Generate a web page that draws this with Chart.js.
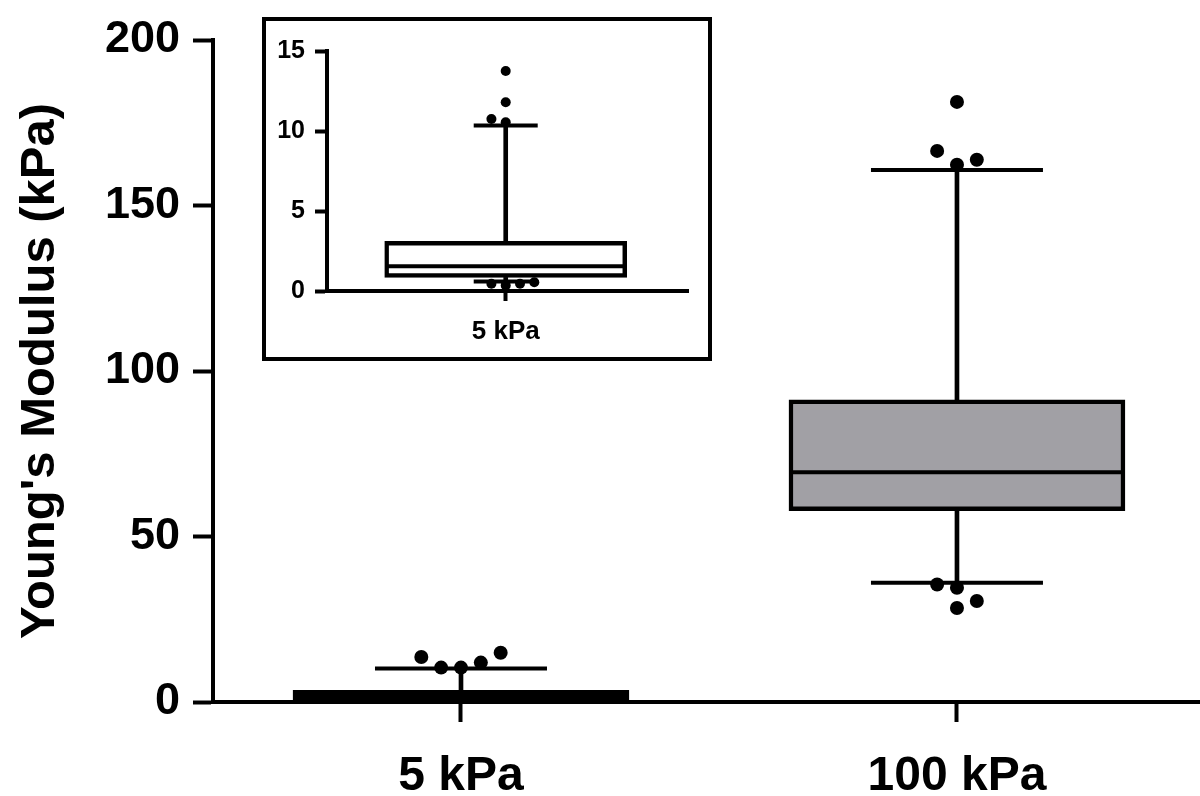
<!DOCTYPE html>
<html>
<head>
<meta charset="utf-8">
<script src="https://cdn.jsdelivr.net/npm/chart.js@4.4.0/dist/chart.umd.min.js"></script>
<style>
  html, body { margin: 0; padding: 0; background: #fff; }
  #wrap { position: relative; width: 1200px; height: 796px; }
  #inset { position: absolute; left: 262px; top: 17px; width: 450px; height: 344px;
           border: 4px solid #000; box-sizing: border-box; background: #fff; }
  canvas { display: block; }
</style>
</head>
<body>
<div id="wrap">
  <canvas id="mainChart" width="1200" height="796"></canvas>
  <div id="inset"><canvas id="insetChart" width="442" height="336"></canvas></div>
</div>
<script>
// main plot data (kPa)
const categories = ['5 kPa', '100 kPa'];
const q1 = [0.5, 57.8];
const median = [1.6, 69.4];
const q3 = [3.5, 91.3];
const whiskerLow = [0.5, 36.0];
const whiskerHigh = [10.1, 160.7];
const outlierGroup = [0, 0, 0, 0, 0, 1, 1, 1, 1, 1, 1, 1, 1];
const outlierValues = [13.6, 10.4, 10.4, 11.9, 14.9, 181.3, 166.5, 162.3, 163.8, 35.5, 34.5, 30.5, 28.4];
const outlierLane = [-2, -1, 0, 1, 2, 0, -1, 0, 1, -1, 0, 1, 0];
const yTicks = [0, 50, 100, 150, 200];

// inset data (5 kPa only)
const insetCategories = ['5 kPa'];
const insetQ1 = [0.85];
const insetMedian = [1.55];
const insetQ3 = [3.1];
const insetLow = [0.6];
const insetHigh = [10.35];
const insetOutlierGroup = [0, 0, 0, 0, 0, 0, 0, 0];
const insetOutlierValues = [13.75, 11.8, 10.75, 10.55, 0.45, 0.35, 0.45, 0.55];
const insetOutlierLane = [0, 0, -1, 0, -1, 0, 1, 2];
const insetYTicks = [0, 5, 10, 15];

const FONT = "'Liberation Sans', Arial, Helvetica, sans-serif";
const LANE = 0.04;

function boxChart(canvasId, s) {
  const n = s.cats.length;
  const idx = [...Array(n).keys()];
  const whiskers = idx.flatMap(i => [
    { x: i + 1, y: [s.q3[i], s.hi[i]] },
    { x: i + 1, y: [s.lo[i], s.q1[i]] }
  ]);
  const caps = idx.flatMap(i => [{ x: i + 1, y: s.lo[i] }, { x: i + 1, y: s.hi[i] }]);
  const meds = idx.map(i => ({ x: i + 1, y: s.med[i] }));
  const pts = s.outVals.map((v, k) => ({ x: s.outGroup[k] + 1 + s.outLane[k] * LANE, y: v }));

  const axisGrid = len => ({
    drawOnChartArea: false, drawTicks: true, offset: false,
    tickLength: len, tickWidth: 4, tickColor: '#000'
  });
  const axisBorder = { display: true, width: 4, color: '#000' };

  return new Chart(document.getElementById(canvasId), {
    type: 'bar',
    data: {
      datasets: [
        { type: 'scatter', data: pts, pointStyle: 'circle', pointRadius: s.dot,
          backgroundColor: '#000', borderWidth: 0, order: 1, clip: false },
        { type: 'scatter', data: meds, pointStyle: 'line', pointRadius: s.boxW / 2 - 1,
          borderColor: '#000', borderWidth: 4, order: 2, clip: false },
        { type: 'scatter', data: caps, pointStyle: 'line', pointRadius: s.capR,
          borderColor: '#000', borderWidth: 4, order: 2, clip: false },
        { type: 'bar', data: whiskers, backgroundColor: '#000', barThickness: 4,
          grouped: false, borderWidth: 0, order: 3 },
        { type: 'bar', data: idx.map(i => ({ x: i + 1, y: [s.q1[i], s.q3[i]] })),
          backgroundColor: s.fill, borderColor: '#000', borderWidth: 4.5,
          borderSkipped: false, barThickness: s.boxW, grouped: false, order: 4 }
      ]
    },
    options: {
      responsive: false,
      animation: false,
      layout: { padding: s.pad, autoPadding: false },
      plugins: { legend: { display: false }, tooltip: { enabled: false } },
      scales: {
        x: {
          type: 'linear', min: s.xmin, max: s.xmax, offset: false,
          afterBuildTicks: sc => { sc.ticks = s.cats.map((c, i) => ({ value: i + 1 })); },
          afterFit: sc => { sc.height = s.xh; },
          ticks: { callback: v => s.cats[v - 1], color: '#000', padding: s.xpad,
                   font: { family: FONT, size: s.xfont, weight: 'bold' } },
          grid: axisGrid(s.xtick),
          border: axisBorder
        },
        y: {
          min: s.yTicks[0], max: s.yTicks[s.yTicks.length - 1],
          afterBuildTicks: sc => { sc.ticks = s.yTicks.map(v => ({ value: v })); },
          afterFit: sc => { sc.width = s.yw; },
          ticks: { color: '#000', padding: s.ypad,
                   font: { family: FONT, size: s.yfont, weight: 'bold' } },
          grid: axisGrid(s.ytick),
          border: axisBorder,
          title: s.title ? {
            display: true, text: s.title, color: '#000',
            font: { family: FONT, size: 49, weight: 'bold', lineHeight: 1.2 },
            padding: { top: 11, bottom: 0 }
          } : { display: false }
        }
      }
    }
  });
}

boxChart('mainChart', {
  cats: categories, q1: q1, med: median, q3: q3, lo: whiskerLow, hi: whiskerHigh,
  outVals: outlierValues, outGroup: outlierGroup, outLane: outlierLane, yTicks: yTicks,
  fill: ['#000000', '#a1a0a5'], boxW: 336, capR: 86, dot: 7,
  xmin: 0.5, xmax: 2.49, xh: 94, xfont: 48, xpad: 26, xtick: 20,
  yw: 213, yfont: 45, ypad: 13, ytick: 20,
  pad: { top: 38, right: 0, bottom: 0, left: 0 },
  title: "Young's Modulus (kPa)"
});

boxChart('insetChart', {
  cats: insetCategories, q1: insetQ1, med: insetMedian, q3: insetQ3, lo: insetLow, hi: insetHigh,
  outVals: insetOutlierValues, outGroup: insetOutlierGroup, outLane: insetOutlierLane, yTicks: insetYTicks,
  fill: '#fff', boxW: 242, capR: 32, dot: 5,
  xmin: 0.5, xmax: 1.51, xh: 66, xfont: 26, xpad: 15, xtick: 10,
  yw: 61, yfont: 25, ypad: 10, ytick: 12,
  pad: { top: 30, right: 20, bottom: 0, left: 0 },
  title: null
});
</script>
</body>
</html>
